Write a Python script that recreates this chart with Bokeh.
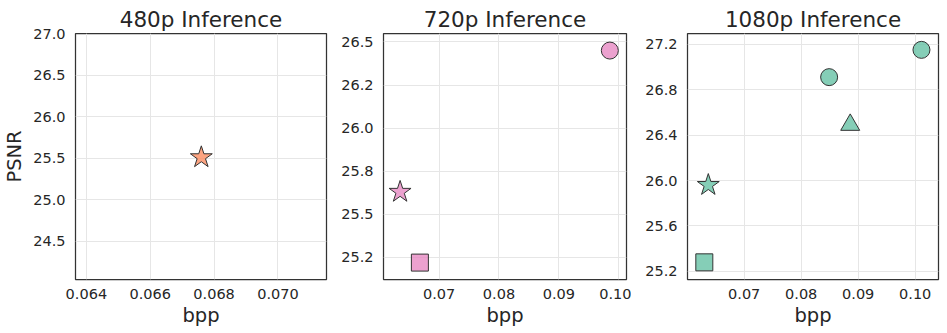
from bokeh.plotting import figure
from bokeh.layouts import row
from bokeh.models import ColumnDataSource, Range1d, FixedTicker
from bokeh.embed import file_html
from bokeh.resources import INLINE

# ---- data ----
titles = ["480p Inference", "720p Inference", "1080p Inference"]

bpp_480 = [0.0676]
psnr_480 = [25.51]
marker_480 = ["star"]

bpp_720 = [0.0635, 0.0668, 0.0985]
psnr_720 = [25.63, 25.22, 26.45]
marker_720 = ["star", "square", "circle"]

bpp_1080 = [0.0637, 0.0630, 0.0849, 0.0886, 0.1011]
psnr_1080 = [25.96, 25.28, 26.91, 26.49, 27.15]
marker_1080 = ["star", "square", "circle", "triangle", "circle"]

xticks_480 = [0.064, 0.066, 0.068, 0.070]
xlabels_480 = ["0.064", "0.066", "0.068", "0.070"]
yticks_480 = [24.5, 25.0, 25.5, 26.0, 26.5, 27.0]
ylabels_480 = ["24.5", "25.0", "25.5", "26.0", "26.5", "27.0"]

xticks_hd = [0.07, 0.08, 0.09, 0.10]
xlabels_hd = ["0.07", "0.08", "0.09", "0.10"]
yticks_720 = [25.25, 25.5, 25.75, 26.0, 26.25, 26.5]
ylabels_720 = ["25.2", "25.5", "25.8", "26.0", "26.2", "26.5"]
yticks_1080 = [25.2, 25.6, 26.0, 26.4, 26.8, 27.2]
ylabels_1080 = ["25.2", "25.6", "26.0", "26.4", "26.8", "27.2"]

# ---- styles ----
FONT = "DejaVu Sans"
TXT = "#262626"
colors = ["#fc8d62", "#e78ac3", "#66c2a5"]
marker_size = {"star": 23, "square": 17, "circle": 17, "triangle": 19}

specs = [
    dict(x=bpp_480, y=psnr_480, m=marker_480, xr=(0.06366, 0.07152), yr=(24.04, 27.0),
         xt=xticks_480, xl=xlabels_480, yt=yticks_480, yl=ylabels_480,
         w=331, bl=73, br=5, ylabel="PSNR"),
    dict(x=bpp_720, y=psnr_720, m=marker_720, xr=(0.06073, 0.10128), yr=(25.122, 26.549),
         xt=xticks_hd, xl=xlabels_hd, yt=yticks_720, yl=ylabels_720,
         w=300, bl=52, br=5, ylabel=None),
    dict(x=bpp_1080, y=psnr_1080, m=marker_1080, xr=(0.06005, 0.10409), yr=(25.129, 27.294),
         xt=xticks_hd, xl=xlabels_hd, yt=yticks_1080, yl=ylabels_1080,
         w=315, bl=56, br=8, ylabel=None),
]

figs = []
for i, s in enumerate(specs):
    p = figure(width=s["w"], height=333, output_backend="svg", toolbar_location=None,
               x_range=Range1d(*s["xr"]), y_range=Range1d(*s["yr"]),
               min_border_left=s["bl"], min_border_right=s["br"],
               min_border_top=33, min_border_bottom=54)
    p.title.text = titles[i]
    p.title.align = "center"
    p.title.text_font = FONT
    p.title.text_font_size = "21.5px"
    p.title.text_font_style = "normal"
    p.title.text_color = TXT
    p.title.standoff = 4
    p.title.offset = 0

    p.outline_line_color = "#333333"
    p.outline_line_width = 1.25
    p.outline_line_alpha = 1
    p.background_fill_color = "white"
    p.border_fill_color = "white"

    for ax, ticks, labels in ((p.xaxis[0], s["xt"], s["xl"]), (p.yaxis[0], s["yt"], s["yl"])):
        ax.ticker = FixedTicker(ticks=ticks)
        ax.major_label_overrides = {t: l for t, l in zip(ticks, labels)}
        ax.axis_line_color = None
        ax.major_tick_line_color = None
        ax.minor_tick_line_color = None
        ax.major_tick_out = 0
        ax.major_tick_in = 0
        ax.major_label_text_font = FONT
        ax.major_label_text_font_size = "14.5px"
        ax.major_label_text_color = TXT
        ax.axis_label_text_font = FONT
        ax.axis_label_text_font_size = "19.5px"
        ax.axis_label_text_font_style = "normal"
        ax.axis_label_text_color = TXT

    p.xaxis.axis_label = "bpp"
    p.xaxis.major_label_standoff = 9
    p.xaxis.axis_label_standoff = 2
    p.yaxis.major_label_standoff = 10
    if s["ylabel"]:
        p.yaxis.axis_label = s["ylabel"]
        p.yaxis.axis_label_standoff = 4

    p.xgrid.grid_line_color = "#e6e6e6"
    p.ygrid.grid_line_color = "#e6e6e6"
    p.xgrid.grid_line_width = 1
    p.ygrid.grid_line_width = 1

    src = ColumnDataSource(dict(x=s["x"], y=s["y"], marker=s["m"],
                                size=[marker_size[m] for m in s["m"]]))
    p.scatter("x", "y", source=src, marker="marker", size="size",
              fill_color=colors[i], fill_alpha=0.8,
              line_color="#333333", line_width=1)
    figs.append(p)

layout = row(*figs)
open("out.html", "w").write(file_html(layout, INLINE))
